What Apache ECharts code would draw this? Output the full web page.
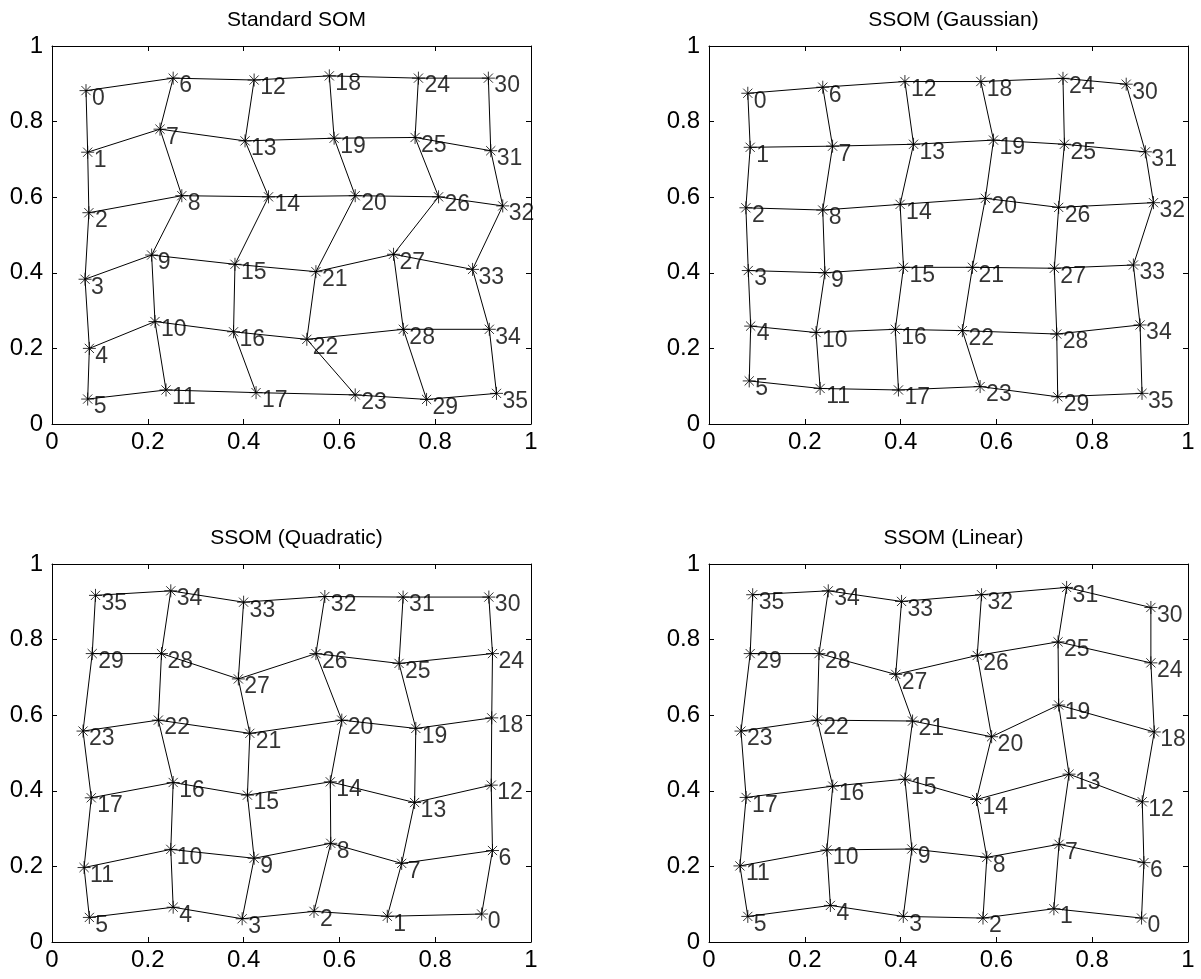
<!DOCTYPE html>
<html>
<head>
<meta charset="utf-8">
<title>SOM grids</title>
<script src="https://cdn.jsdelivr.net/npm/echarts@6/dist/echarts.min.js"></script>
<style>
  html, body { margin: 0; padding: 0; background: #fff; }
  #chart { width: 1201px; height: 979px; }
</style>
</head>
<body>
<div id="chart"></div>
<script>
// Panel titles
const panelTitles = ['Standard SOM', 'SSOM (Gaussian)', 'SSOM (Quadratic)', 'SSOM (Linear)'];

// Axis ticks (both axes, every panel)
const tickValues = [0, 0.2, 0.4, 0.6, 0.8, 1];

// Node positions, indexed by node number 0..35 (6 x 6 lattice)
const somX = [0.071, 0.0745, 0.077, 0.069, 0.078, 0.0745,
              0.253, 0.2255, 0.271, 0.208, 0.215, 0.238,
              0.422, 0.403, 0.452, 0.382, 0.379, 0.426,
              0.579, 0.589, 0.633, 0.551, 0.532, 0.633,
              0.765, 0.758, 0.807, 0.713, 0.7335, 0.782,
              0.911, 0.916, 0.941, 0.878, 0.913, 0.928];
const somY = [0.882, 0.719, 0.559, 0.383, 0.200, 0.066,
              0.915, 0.780, 0.604, 0.447, 0.271, 0.090,
              0.910, 0.749, 0.601, 0.4225, 0.244, 0.083,
              0.921, 0.756, 0.604, 0.403, 0.224, 0.077,
              0.915, 0.758, 0.601, 0.449, 0.2505, 0.065,
              0.915, 0.723, 0.577, 0.409, 0.2505, 0.081];

const gaussX = [0.081, 0.086, 0.077, 0.082, 0.087, 0.084,
                0.2375, 0.258, 0.2375, 0.242, 0.2235, 0.232,
                0.409, 0.427, 0.399, 0.406, 0.389, 0.3955,
                0.5675, 0.594, 0.577, 0.550, 0.529, 0.566,
                0.739, 0.742, 0.730, 0.721, 0.726, 0.728,
                0.871, 0.911, 0.928, 0.886, 0.900, 0.904];
const gaussY = [0.875, 0.732, 0.572, 0.406, 0.259, 0.114,
                0.891, 0.735, 0.566, 0.400, 0.242, 0.094,
                0.906, 0.740, 0.581, 0.4145, 0.2505, 0.090,
                0.906, 0.751, 0.597, 0.4145, 0.247, 0.099,
                0.9145, 0.740, 0.573, 0.412, 0.238, 0.072,
                0.899, 0.720, 0.5855, 0.4206, 0.262, 0.081];

const quadX = [0.897, 0.700, 0.547, 0.397, 0.253, 0.078,
               0.9196, 0.730, 0.582, 0.422, 0.248, 0.067,
               0.917, 0.757, 0.581, 0.408, 0.253, 0.082,
               0.918, 0.7595, 0.605, 0.413, 0.222, 0.0648,
               0.9196, 0.7245, 0.551, 0.389, 0.2286, 0.084,
               0.912, 0.733, 0.5696, 0.400, 0.248, 0.0908];
const quadY = [0.074, 0.068, 0.081, 0.0615, 0.092, 0.065,
               0.242, 0.208, 0.261, 0.2215, 0.245, 0.197,
               0.415, 0.369, 0.4237, 0.3886, 0.422, 0.3815,
               0.593, 0.565, 0.587, 0.552, 0.587, 0.558,
               0.763, 0.737, 0.763, 0.696, 0.763, 0.763,
               0.9125, 0.9125, 0.914, 0.899, 0.929, 0.917];

const linX = [0.903, 0.720, 0.572, 0.4056, 0.2534, 0.081,
              0.908, 0.7308, 0.580, 0.4235, 0.246, 0.0646,
              0.9045, 0.7516, 0.5585, 0.409, 0.2584, 0.0775,
              0.9296, 0.730, 0.590, 0.425, 0.226, 0.0668,
              0.9225, 0.7287, 0.560, 0.3898, 0.2297, 0.086,
              0.9225, 0.7466, 0.569, 0.402, 0.249, 0.0912];
const linY = [0.0633, 0.088, 0.0633, 0.0677, 0.0967, 0.0677,
              0.210, 0.2585, 0.224, 0.246, 0.2435, 0.2013,
              0.371, 0.444, 0.377, 0.4308, 0.4123, 0.3824,
              0.5556, 0.627, 0.543, 0.5846, 0.587, 0.558,
              0.7385, 0.794, 0.758, 0.708, 0.763, 0.763,
              0.885, 0.938, 0.9187, 0.901, 0.929, 0.9187];

const panels = [[somX, somY], [gaussX, gaussY], [quadX, quadY], [linX, linY]];
const side = 6;

// Panel frames in pixels
const frames = [
  { left: 52,  top: 46 },
  { left: 709, top: 46 },
  { left: 52,  top: 564 },
  { left: 709, top: 564 }
];
const frameW = 479, frameH = 378;

const FONT = 'Liberation Sans, Arial, Helvetica, sans-serif';
const fmt = v => String(+(+v).toFixed(1));

// Lattice edges: node k*6+j joins k*6+j+1 and (k+1)*6+j
function latticePaths(xs, ys) {
  const paths = [];
  for (let k = 0; k < side; k++) {
    const a = [], b = [];
    for (let j = 0; j < side; j++) {
      const i = k * side + j;
      a.push([xs[i], ys[i]]);
      const t = j * side + k;
      b.push([xs[t], ys[t]]);
    }
    paths.push({ coords: a }, { coords: b });
  }
  return paths;
}

const asterisk = 'path://M0,-10L0,10M-10,0L10,0M-7.07,-7.07L7.07,7.07M-7.07,7.07L7.07,-7.07';

const grid = [], xAxis = [], yAxis = [], series = [], title = [];

frames.forEach((f, p) => {
  grid.push({ left: f.left, top: f.top, width: frameW, height: frameH, containLabel: false });
  title.push({
    text: panelTitles[p],
    left: f.left + frameW / 2,
    top: f.top - 41,
    textAlign: 'center',
    textStyle: { fontFamily: FONT, fontSize: 21, fontWeight: 'normal', color: '#000' }
  });
  const axisBase = {
    type: 'value', min: tickValues[0], max: tickValues[tickValues.length - 1],
    interval: tickValues[1] - tickValues[0], gridIndex: p,
    splitLine: { show: false },
    axisLine: { show: true, onZero: false, lineStyle: { color: '#000', width: 1 } },
    axisTick: { show: true, inside: true, length: 5, lineStyle: { color: '#000', width: 1 } }
  };
  xAxis.push(Object.assign({}, axisBase, {
    position: 'bottom',
    axisLabel: { show: true, color: '#000', fontFamily: FONT, fontSize: 24, margin: 6, formatter: fmt }
  }));
  xAxis.push(Object.assign({}, axisBase, { position: 'top', axisLabel: { show: false } }));
  yAxis.push(Object.assign({}, axisBase, {
    position: 'left',
    axisLabel: { show: true, color: '#000', fontFamily: FONT, fontSize: 24, margin: 9, formatter: fmt }
  }));
  yAxis.push(Object.assign({}, axisBase, { position: 'right', axisLabel: { show: false } }));

  const xs = panels[p][0], ys = panels[p][1];
  series.push({
    type: 'lines',
    coordinateSystem: 'cartesian2d',
    xAxisIndex: p * 2, yAxisIndex: p * 2,
    polyline: true,
    silent: true,
    lineStyle: { color: '#000', width: 1, opacity: 1 },
    data: latticePaths(xs, ys),
    z: 2
  });
  series.push({
    type: 'scatter',
    xAxisIndex: p * 2, yAxisIndex: p * 2,
    symbol: asterisk,
    symbolSize: 13,
    itemStyle: { color: '#000', borderColor: '#000', borderWidth: 1 },
    label: {
      show: true, position: 'right', distance: 0, offset: [-1, 8],
      color: '#000', fontFamily: FONT, fontSize: 23,
      formatter: d => String(d.dataIndex)
    },
    data: xs.map((x, i) => [x, ys[i]]),
    z: 3
  });
});

const chart = echarts.init(document.getElementById('chart'), null, { renderer: 'canvas' });
chart.setOption({
  backgroundColor: '#fff',
  animation: false,
  title, grid, xAxis, yAxis, series
});
</script>
</body>
</html>
